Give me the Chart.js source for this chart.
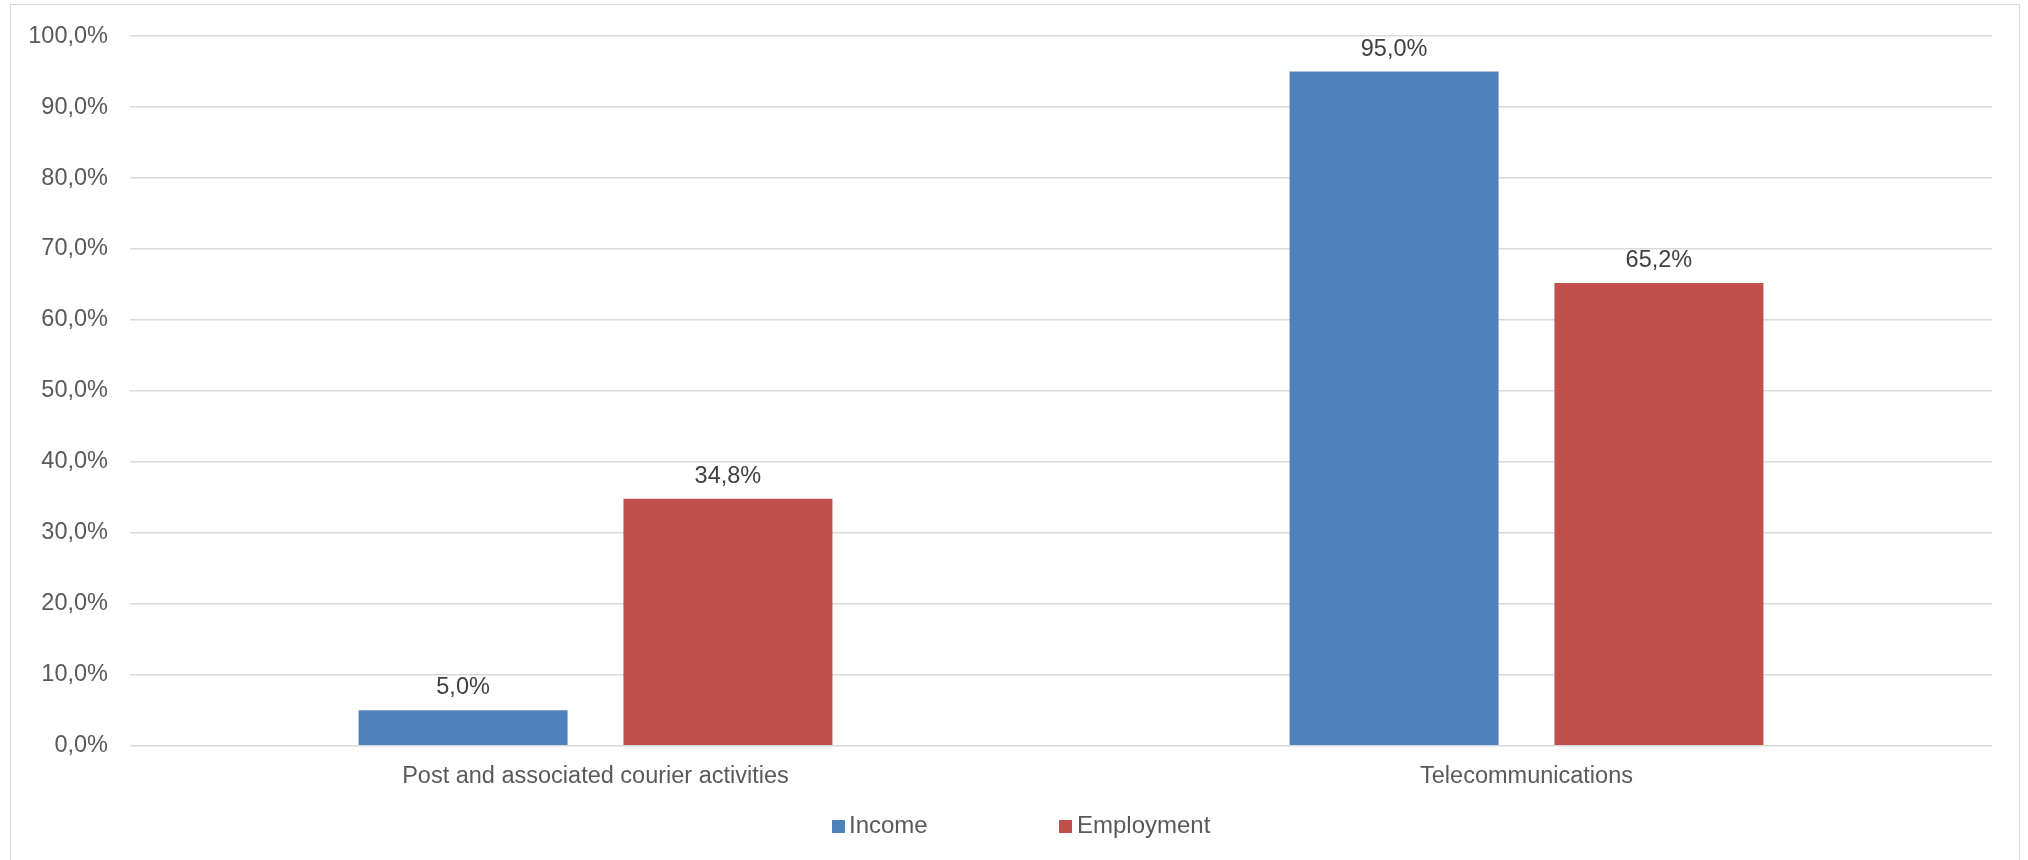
<!DOCTYPE html>
<html>
<head>
<meta charset="utf-8">
<script src="https://cdn.jsdelivr.net/npm/chart.js@4/dist/chart.umd.min.js"></script>
<style>
    html, body { margin: 0; padding: 0; background: #fff; overflow: hidden; }
    #wrap { position: relative; width: 2028px; height: 860px; }
    #frame { position: absolute; left: 10px; top: 4px; width: 2010px; height: 900px;
             border: 1.5px solid #d9d9d9; box-sizing: border-box; }
    #chart { position: absolute; left: 0; top: 0; }
    .lg-box { position: absolute; width: 13px; height: 13px; top: 820px; }
    .lg-text { position: absolute; top: 811px; font: 24px "Liberation Sans", Arial, sans-serif;
               color: #595959; line-height: 28px; white-space: nowrap; }
</style>
</head>
<body>
<div id="wrap">
    <div id="frame"></div>
    <canvas id="chart" width="2028" height="860"></canvas>
</div>
<script>
const categories = ['Post and associated courier activities', 'Telecommunications'];
const seriesNames = ['Income', 'Employment'];
const incomeValues = [5.0, 95.0];
const employmentValues = [34.8, 65.2];
const seriesColors = ['#4F81BD', '#C0504D'];

const fontFamily = '"Liberation Sans", Arial, sans-serif';
const fmt = (v) => v.toFixed(1).replace('.', ',') + '%';

// value labels above each bar
const barLabels = {
    id: 'barLabels',
    afterDatasetsDraw(chart) {
        const ctx = chart.ctx;
        ctx.save();
        ctx.font = '23.5px ' + fontFamily;
        ctx.fillStyle = '#404040';
        ctx.textAlign = 'center';
        ctx.textBaseline = 'alphabetic';
        chart.data.datasets.forEach((ds, i) => {
            chart.getDatasetMeta(i).data.forEach((bar, j) => {
                ctx.fillText(fmt(ds.data[j]), bar.x, bar.y - 16);
            });
        });
        ctx.restore();
    }
};

new Chart(document.getElementById('chart'), {
    type: 'bar',
    data: {
        labels: categories,
        datasets: [
            { label: seriesNames[0], data: incomeValues, backgroundColor: seriesColors[0] },
            { label: seriesNames[1], data: employmentValues, backgroundColor: seriesColors[1] }
        ]
    },
    options: {
        responsive: false,
        animation: false,
        categoryPercentage: 0.569,
        barPercentage: 0.789,
        layout: { padding: { left: 0, right: 36, top: 33.5, bottom: 0 } },
        plugins: {
            legend: { display: false },
            tooltip: { enabled: false }
        },
        scales: {
            x: {
                afterFit: (axis) => { axis.height = 114.3; },
                grid: { display: false, drawTicks: false },
                border: { display: false },
                ticks: { color: '#595959', font: { family: fontFamily, size: 23.5 }, padding: 17, maxRotation: 0 }
            },
            y: {
                min: 0,
                max: 100,
                afterFit: (axis) => { axis.width = 130; },
                grid: { color: '#d9d9d9', lineWidth: 1.5, drawTicks: false },
                border: { display: false },
                ticks: {
                    stepSize: 10,
                    padding: 22,
                    color: '#595959',
                    font: { family: fontFamily, size: 23.5 },
                    callback: (v) => fmt(v)
                }
            }
        }
    },
    plugins: [barLabels]
});

// legend in the style of the original
const legendPos = [[832, 849], [1059, 1077]];
const wrap = document.getElementById('wrap');
seriesNames.forEach((name, i) => {
    const box = document.createElement('div');
    box.className = 'lg-box';
    box.style.left = legendPos[i][0] + 'px';
    box.style.background = seriesColors[i];
    wrap.appendChild(box);
    const txt = document.createElement('div');
    txt.className = 'lg-text';
    txt.style.left = legendPos[i][1] + 'px';
    txt.textContent = name;
    wrap.appendChild(txt);
});
</script>
</body>
</html>
